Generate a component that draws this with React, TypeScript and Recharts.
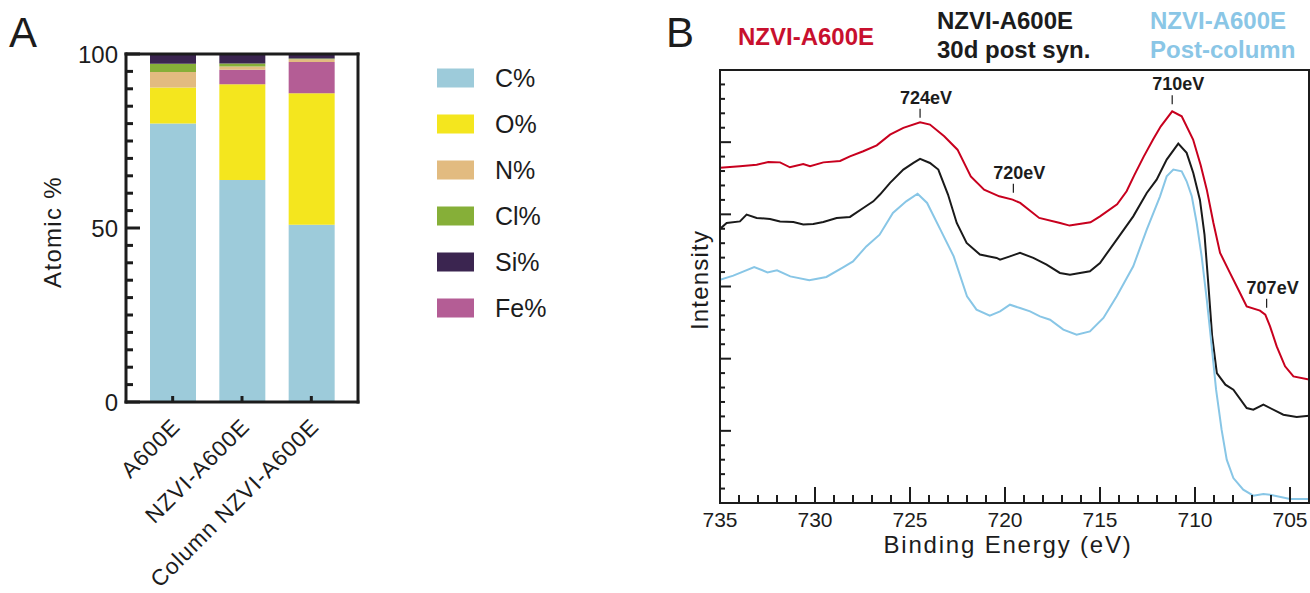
import React from "react";
import { BarChart, Bar, LineChart, Line, XAxis, YAxis, ReferenceDot } from "recharts";

const FONT = "'Liberation Sans', Arial, Helvetica, sans-serif";
const INK = "#1c1c1c";

// ---------- A: surface composition by XPS survey ----------
const SAMPLES = ["A600E", "NZVI-A600E", "Column NZVI-A600E"];
const C_PCT = [80.0, 63.8, 50.9];
const O_PCT = [10.4, 27.5, 37.8];
const FE_PCT = [0, 4.2, 9.0];
const N_PCT = [4.4, 0.9, 0.8];
const CL_PCT = [2.4, 0.9, 0.2];
const SI_PCT = [2.8, 2.7, 1.3];

// bottom-to-top order of the stacks
const STACK_ORDER = ["C%", "O%", "Fe%", "N%", "Cl%", "Si%"];
// order shown in the key
const LEGEND_ORDER = ["C%", "O%", "N%", "Cl%", "Si%", "Fe%"];
const ELEMENT_COLORS: Record<string, string> = {
  "C%": "#9dcbda",
  "O%": "#f4e61e",
  "N%": "#e2bb80",
  "Cl%": "#86af38",
  "Si%": "#3b2550",
  "Fe%": "#b45d95",
};

const ATOMIC_TICKS = [0, 5, 10, 15, 20, 25, 30, 35, 40, 45, 50, 55, 60, 65, 70, 75, 80, 85, 90, 95, 100];
const ATOMIC_LABELS = [0, 50, 100];

// ---------- B: Fe 2p spectra ----------
// [binding energy (eV), intensity (a.u., offset)]
const RED_SPECTRUM: [number, number][] = [
  [735.0, 23.22], [733.95, 23.33], [733.07, 23.44], [732.46, 23.63], [731.84, 23.6],
  [731.32, 23.26], [730.62, 23.49], [730.26, 23.33], [729.56, 23.6], [728.68, 23.7],
  [728.16, 24.02], [727.46, 24.37], [726.75, 24.78], [726.05, 25.52], [725.35, 25.99],
  [724.47, 26.38], [723.95, 26.22], [723.2, 25.41], [722.5, 24.48], [721.8, 22.63],
  [721.1, 21.71], [720.3, 21.25], [719.6, 21.02], [719.2, 20.79], [718.2, 19.75],
  [717.1, 19.4], [716.6, 19.22], [715.5, 19.45], [715.0, 19.86], [714.1, 20.7],
  [713.6, 21.6], [713.2, 22.7], [712.7, 24.0], [712.2, 25.2], [711.8, 26.1],
  [711.2, 27.14], [710.7, 26.79], [710.1, 25.18], [709.7, 23.4], [709.38, 21.71],
  [709.03, 19.4], [708.68, 17.33], [708.16, 15.94], [707.63, 14.55], [707.28, 13.62],
  [706.58, 13.33], [706.3, 13.05], [706.05, 12.24], [705.7, 10.85], [705.26, 9.47],
  [704.82, 8.77], [704.0, 8.55],
];

const BLACK_SPECTRUM: [number, number][] = [
  [735.0, 18.99], [734.65, 19.4], [733.95, 19.51], [733.6, 19.98], [733.07, 19.75],
  [732.37, 19.68], [731.84, 19.51], [731.14, 19.47], [730.62, 19.29], [730.09, 19.33],
  [729.56, 19.47], [728.86, 19.75], [728.16, 19.82], [727.46, 20.44], [726.93, 20.9],
  [726.58, 21.37], [726.05, 22.18], [725.35, 23.1], [724.82, 23.56], [724.47, 23.84],
  [723.95, 23.56], [723.51, 23.1], [723.0, 21.37], [722.54, 19.4], [722.02, 18.02],
  [721.32, 17.21], [720.44, 16.98], [720.26, 16.86], [719.74, 17.09], [719.21, 17.33],
  [718.51, 16.98], [717.81, 16.51], [717.11, 15.94], [716.58, 15.82], [715.53, 16.05],
  [715.0, 16.63], [714.12, 18.25], [713.25, 19.86], [712.54, 21.48], [712.02, 22.4],
  [711.49, 23.79], [710.88, 24.9], [710.44, 24.26], [710.09, 22.87], [709.74, 21.0],
  [709.5, 18.6], [709.3, 15.2], [709.1, 11.6], [708.85, 9.0], [708.4, 8.2],
  [707.98, 7.85], [707.28, 6.58], [706.93, 6.47], [706.4, 6.81], [705.35, 6.12],
  [704.65, 5.96], [704.0, 6.05],
];

const BLUE_SPECTRUM: [number, number][] = [
  [735.0, 15.47], [734.3, 15.75], [733.2, 16.35], [732.5, 15.98], [732.0, 16.12],
  [731.3, 15.7], [730.3, 15.43], [729.4, 15.66], [728.5, 16.35], [728.0, 16.74],
  [727.3, 17.78], [726.6, 18.59], [725.9, 20.1], [725.2, 20.9], [724.6, 21.43],
  [724.1, 20.79], [723.4, 18.94], [722.7, 17.09], [722.0, 14.32], [721.5, 13.4],
  [720.8, 12.98], [720.26, 13.28], [719.74, 13.74], [719.21, 13.51], [718.68, 13.28],
  [718.16, 12.93], [717.63, 12.7], [716.93, 12.01], [716.23, 11.66], [715.53, 11.89],
  [714.82, 12.82], [714.12, 14.32], [713.25, 16.4], [712.54, 18.94], [711.84, 21.25],
  [711.49, 22.63], [711.14, 23.1], [710.7, 22.98], [710.44, 22.29], [710.17, 21.25],
  [709.91, 19.4], [709.65, 17.09], [709.38, 14.09], [709.12, 10.85], [708.89, 7.85],
  [708.6, 5.08], [708.33, 3.0], [707.98, 1.73], [707.46, 0.92], [706.93, 0.51],
  [706.4, 0.62], [706.05, 0.58], [705.0, 0.28], [704.0, 0.28],
];

const SPECTRA = [
  { key: "fresh", color: "#c8001e", points: RED_SPECTRUM },
  { key: "aged", color: "#1a1a1a", points: BLACK_SPECTRUM },
  { key: "column", color: "#88c6e6", points: BLUE_SPECTRUM },
];

const PEAK_MARKS = [
  { label: "724eV", energy: 724.47, intensity: 26.7 },
  { label: "720eV", energy: 719.56, intensity: 21.5 },
  { label: "710eV", energy: 711.2, intensity: 27.62 },
  { label: "707eV", energy: 706.23, intensity: 13.53 },
];

const ENERGY_LABELS = [735, 730, 725, 720, 715, 710, 705];
const ENERGY_TICKS = Array.from({ length: 32 }, (_, i) => 704 + i);
const INTENSITY_TICKS = Array.from({ length: 31 }, (_, i) => i);

const compositionData = SAMPLES.map((name, i) => ({
  name,
  "C%": C_PCT[i],
  "O%": O_PCT[i],
  "Fe%": FE_PCT[i],
  "N%": N_PCT[i],
  "Cl%": CL_PCT[i],
  "Si%": SI_PCT[i],
}));

const toPoints = (pts: [number, number][]) => pts.map(([energy, intensity]) => ({ energy, intensity }));

// ---------- tick renderers (all ticks point into the plot) ----------
function AtomicTick({ x, y, payload }: any) {
  const major = ATOMIC_LABELS.includes(payload.value);
  return (
    <g>
      <line x1={x} x2={x + (major ? 14 : 7)} y1={y} y2={y} stroke={INK} strokeWidth={3} />
      {major && (
        <text x={x - 8} y={y + 9} textAnchor="end" fontSize={24} fill={INK} fontFamily={FONT}>
          {payload.value}
        </text>
      )}
    </g>
  );
}

function SampleTick({ x, y, payload }: any) {
  const ax = x + 9;
  const ay = y + 26;
  return (
    <g>
      <line x1={x} x2={x} y1={y} y2={y - 6} stroke={INK} strokeWidth={3} />
      <text
        x={ax}
        y={ay}
        textAnchor="end"
        transform={`rotate(-45 ${ax} ${ay})`}
        fontSize={22.5}
        fill={INK}
        fontFamily={FONT}
        style={{ letterSpacing: 1 }}
      >
        {payload.value}
      </text>
    </g>
  );
}

function EnergyTick({ x, y, payload }: any) {
  const major = ENERGY_LABELS.includes(payload.value);
  return (
    <g>
      <line x1={x} x2={x} y1={y} y2={y - (major ? 16 : 8)} stroke={INK} strokeWidth={2} />
      {major && (
        <text x={x} y={y + 24} textAnchor="middle" fontSize={21} fill={INK} fontFamily={FONT}>
          {payload.value}
        </text>
      )}
    </g>
  );
}

const intensityTick = (side: 1 | -1) =>
  function IntensityTick({ x, y, payload }: any) {
    const len = payload.value % 5 === 0 ? 11 : 5;
    return <line x1={x} x2={x + side * len} y1={y} y2={y} stroke={INK} strokeWidth={2} />;
  };

function PeakMark({ cx, cy, label }: any) {
  return (
    <g>
      <line x1={cx} x2={cx} y1={cy} y2={cy - 9} stroke={INK} strokeWidth={1.2} />
      <text x={cx + 6} y={cy - 14} textAnchor="middle" fontSize={18} fontWeight="bold" fill={INK} fontFamily={FONT}>
        {label}
      </text>
    </g>
  );
}

const frameA = { stroke: INK, strokeWidth: 3, strokeLinecap: "square" as const };
const frameB = { stroke: INK, strokeWidth: 2, strokeLinecap: "square" as const };

// axes get a 1px box so they render; margins are reduced by the same amount
export default function App() {
  return (
    <div style={{ position: "absolute", left: 0, top: 0, width: 1310, height: 593, background: "#fff" }}>
      <div style={{ position: "absolute", left: 0, top: 0 }}>
        <BarChart width={600} height={593} data={compositionData} margin={{ top: 53, right: 241, bottom: 190, left: 125 }}>
          <XAxis
            dataKey="name"
            type="category"
            padding={{ left: 12, right: 12 }}
            height={1}
            interval={0}
            tickLine={false}
            tickSize={0}
            tickMargin={0}
            axisLine={frameA}
            tick={<SampleTick />}
          />
          <XAxis xAxisId="frame" dataKey="name" orientation="top" height={1} tick={false} tickLine={false} axisLine={frameA} />
          <YAxis
            domain={[0, 100]}
            ticks={ATOMIC_TICKS}
            width={1}
            interval={0}
            tickLine={false}
            tickSize={0}
            tickMargin={0}
            axisLine={frameA}
            tick={<AtomicTick />}
          />
          <YAxis yAxisId="frame" orientation="right" domain={[0, 100]} width={1} tick={false} tickLine={false} axisLine={frameA} />
          {STACK_ORDER.map((el) => (
            <Bar key={el} dataKey={el} stackId="atomic" fill={ELEMENT_COLORS[el]} barSize={46} isAnimationActive={false} />
          ))}
        </BarChart>
      </div>

      <div style={{ position: "absolute", left: 640, top: 0 }}>
        <LineChart width={670} height={593} margin={{ top: 69, right: 0, bottom: 89, left: 79 }}>
          <XAxis
            dataKey="energy"
            type="number"
            domain={[704, 735]}
            reversed
            allowDataOverflow
            ticks={ENERGY_TICKS}
            interval={0}
            height={1}
            tickLine={false}
            tickSize={0}
            tickMargin={0}
            axisLine={frameB}
            tick={<EnergyTick />}
          />
          <XAxis xAxisId="top" type="number" domain={[704, 735]} reversed orientation="top" height={1} tick={false} tickLine={false} axisLine={frameB} />
          <YAxis
            type="number"
            domain={[0, 30]}
            ticks={INTENSITY_TICKS}
            allowDataOverflow
            interval={0}
            width={1}
            tickLine={false}
            tickSize={0}
            tickMargin={0}
            axisLine={frameB}
            tick={intensityTick(1)}
          />
          <YAxis
            yAxisId="right"
            orientation="right"
            type="number"
            domain={[0, 30]}
            ticks={INTENSITY_TICKS}
            interval={0}
            width={1}
            tickLine={false}
            tickSize={0}
            tickMargin={0}
            axisLine={frameB}
            tick={intensityTick(-1)}
          />
          {SPECTRA.map((s) => (
            <Line
              key={s.key}
              data={toPoints(s.points)}
              dataKey="intensity"
              type="linear"
              stroke={s.color}
              strokeWidth={2}
              dot={false}
              isAnimationActive={false}
            />
          ))}
          {PEAK_MARKS.map((m) => (
            <ReferenceDot
              key={m.label}
              x={m.energy}
              y={m.intensity}
              r={0}
              shape={(p: any) => <PeakMark {...p} label={m.label} />}
            />
          ))}
        </LineChart>
      </div>

      {/* panel letters, key, titles and axis names */}
      <svg width={1310} height={593} style={{ position: "absolute", left: 0, top: 0, pointerEvents: "none" }} fontFamily={FONT}>
        <text x={9} y={47} fontSize={42} fill={INK}>A</text>
        <text x={666} y={47} fontSize={42} fill={INK}>B</text>

        <text x={61} y={232} fontSize={24} fill={INK} textAnchor="middle" transform="rotate(-90 61 232)" style={{ letterSpacing: 1.3 }}>
          Atomic %
        </text>

        {LEGEND_ORDER.map((el, i) => (
          <g key={el}>
            <rect x={437} y={68.5 + i * 46} width={37} height={19} fill={ELEMENT_COLORS[el]} />
            <text x={495} y={87 + i * 46} fontSize={25} fill={INK}>{el}</text>
          </g>
        ))}

        <text x={738} y={44.5} fontSize={24} fontWeight="bold" fill="#c8102e">NZVI-A600E</text>
        <text x={937} y={29} fontSize={24} fontWeight="bold" fill={INK}>NZVI-A600E</text>
        <text x={937} y={57.5} fontSize={24} fontWeight="bold" fill={INK}>30d post syn.</text>
        <text x={1150} y={29} fontSize={24} fontWeight="bold" fill="#8ac6e6">NZVI-A600E</text>
        <text x={1150} y={57.5} fontSize={24} fontWeight="bold" fill="#8ac6e6">Post-column</text>

        <text x={708} y={280} fontSize={24} fill={INK} textAnchor="middle" transform="rotate(-90 708 280)" style={{ letterSpacing: 1.2 }}>
          Intensity
        </text>
        <text x={1008} y={553} fontSize={24} fill={INK} textAnchor="middle" style={{ letterSpacing: 1.8 }}>
          Binding Energy (eV)
        </text>
      </svg>
    </div>
  );
}
